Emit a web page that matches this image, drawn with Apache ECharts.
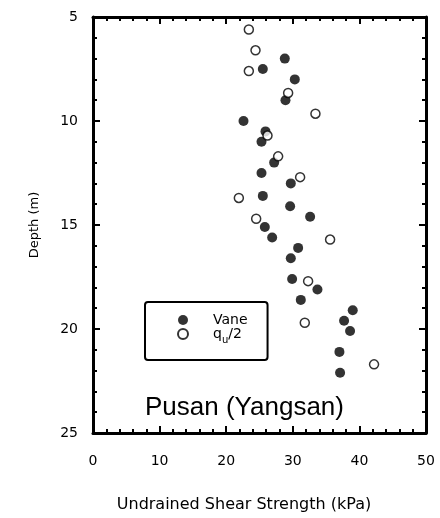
<!DOCTYPE html>
<html>
<head>
<meta charset="utf-8">
<script src="https://cdn.jsdelivr.net/npm/echarts@6/dist/echarts.min.js"></script>
<style>html,body{margin:0;padding:0;background:#fff;}#c{width:440px;height:518px;}</style>
</head>
<body>
<div id="c"></div>
<script>
// Vane: [strength kPa, depth m]
const vaneStrength = [28.8, 25.5, 30.3, 28.9, 22.6, 25.9, 25.3, 27.2, 25.3, 29.7, 25.5, 29.6, 32.6, 25.8, 26.9, 30.8, 29.7, 29.9, 33.7, 31.2, 39.0, 37.7, 38.6, 37.0, 37.1];
const vaneDepth    = [7.0, 7.5, 8.0, 9.0, 10.0, 10.5, 11.0, 12.0, 12.5, 13.0, 13.6, 14.1, 14.6, 15.1, 15.6, 16.1, 16.6, 17.6, 18.1, 18.6, 19.1, 19.6, 20.1, 21.1, 22.1];
// qu/2
const quStrength = [23.4, 24.4, 23.4, 29.3, 33.4, 26.2, 27.8, 31.1, 21.9, 24.5, 35.6, 32.3, 31.8, 42.2];
const quDepth    = [5.6, 6.6, 7.6, 8.65, 9.65, 10.7, 11.7, 12.7, 13.7, 14.7, 15.7, 17.7, 19.7, 21.7];
const seriesNames = ['Vane', 'qu/2'];
const xTicks = {min: 0, max: 50, interval: 10};
const yTicks = {min: 5, max: 25, interval: 5};

const chart = echarts.init(document.getElementById('c'), null, {renderer: 'canvas'});
const FONT = 'DejaVu Sans';
const axisCommon = {
  axisLine: {show: true, onZero: false, lineStyle: {color: '#000', width: 3}},
  axisTick: {show: true, inside: true, length: 7, lineStyle: {color: '#000', width: 2}},
  minorTick: {show: true, splitNumber: 5, length: 4, lineStyle: {color: '#000', width: 2}},
  splitLine: {show: false},
  minorSplitLine: {show: false}
};
chart.setOption({
  animation: false,
  backgroundColor: '#fff',
  title: {
    text: 'Pusan (Yangsan)', left: 140, top: 390,
    textStyle: {fontFamily: 'Liberation Sans', fontSize: 26, fontWeight: 'normal', color: '#000'}
  },
  legend: {
    orient: 'vertical', left: 145, top: 302,
    data: seriesNames,
    itemWidth: 10, itemHeight: 10, itemGap: 0,
    padding: [11, 20, 15, 32],
    borderColor: '#000', borderWidth: 2, borderRadius: 3,
    formatter: function (n) { return n === 'qu/2' ? '{a|q}{s|u}{a|/2}' : '{a|' + n + '}'; },
    textStyle: {
      fontFamily: FONT, fontSize: 14, color: '#000', padding: [0, 0, 0, 20],
      rich: {
        a: {fontFamily: FONT, fontSize: 14, color: '#000'},
        s: {fontFamily: FONT, fontSize: 10, color: '#000', padding: [12, 0, 0, 0]}
      }
    }
  },
  grid: {left: 93, right: 14, top: 17, bottom: 83},
  xAxis: [
    Object.assign({}, axisCommon, {
      type: 'value', position: 'bottom', min: xTicks.min, max: xTicks.max, interval: xTicks.interval,
      name: 'Undrained Shear Strength (kPa)', nameLocation: 'middle', nameGap: 64,
      nameTextStyle: {fontFamily: FONT, fontSize: 16, color: '#000', padding: [0, 31, 0, 0]},
      axisLabel: {margin: 21, fontFamily: FONT, fontSize: 14, color: '#000'}
    }),
    Object.assign({}, axisCommon, {
      type: 'value', position: 'top', min: xTicks.min, max: xTicks.max, interval: xTicks.interval,
      axisLabel: {show: false}
    })
  ],
  yAxis: [
    Object.assign({}, axisCommon, {
      type: 'value', position: 'left', inverse: true, min: yTicks.min, max: yTicks.max, interval: yTicks.interval,
      name: 'Depth (m)', nameLocation: 'middle', nameGap: 52,
      nameTextStyle: {fontFamily: FONT, fontSize: 13, color: '#000'},
      axisLabel: {margin: 15, fontFamily: FONT, fontSize: 14, color: '#000'}
    }),
    Object.assign({}, axisCommon, {
      type: 'value', position: 'right', inverse: true, min: yTicks.min, max: yTicks.max, interval: yTicks.interval,
      axisLabel: {show: false}
    })
  ],
  series: [
    {
      name: seriesNames[0], type: 'scatter', symbol: 'circle', symbolSize: 10,
      itemStyle: {color: '#000'},
      data: vaneStrength.map((v, i) => [v, vaneDepth[i]])
    },
    {
      name: seriesNames[1], type: 'scatter', symbol: 'circle', symbolSize: 9,
      itemStyle: {color: '#fff', borderColor: '#000', borderWidth: 1.5},
      data: quStrength.map((v, i) => [v, quDepth[i]])
    }
  ]
});
</script>
</body>
</html>
